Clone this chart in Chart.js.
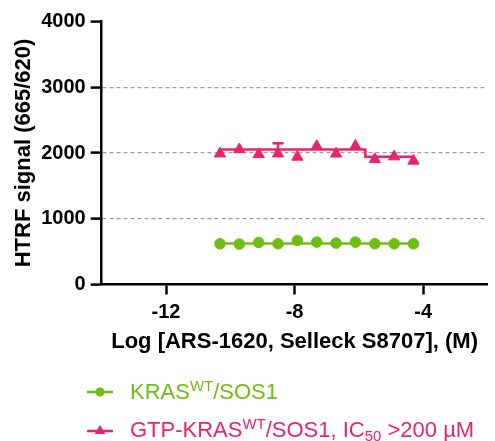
<!DOCTYPE html>
<html>
<head>
<meta charset="utf-8">
<script src="https://cdn.jsdelivr.net/npm/chart.js@4"></script>
<style>
  html, body { margin: 0; padding: 0; background: #fff; overflow: hidden; }
  #wrap { position: relative; width: 495px; height: 441px; }
  canvas { position: absolute; left: 0; top: 0; }
  .leg { position: absolute; left: 85px; height: 28px; display: flex; align-items: center;
         font-family: "Liberation Sans", Arial, sans-serif; font-size: 22px; white-space: nowrap; }
  .leg svg { margin-right: 15px; }
  .leg sup { font-size: 0.68em; vertical-align: 0.55em; line-height: 0; }
  .leg sub { font-size: 0.68em; vertical-align: -0.3em; line-height: 0; }
</style>
</head>
<body>
<div id="wrap">
  <canvas id="c" width="495" height="441"></canvas>
  <div class="leg" id="leg1" style="top:378px;color:rgb(111,190,20)">
    <svg width="30" height="14"><line x1="2" y1="7" x2="28" y2="7" stroke="rgb(111,190,20)" stroke-width="2.5"/><circle cx="15" cy="7" r="4.5" fill="rgb(111,190,20)"/></svg>
    <span>KRAS<sup>WT</sup>/SOS1</span>
  </div>
  <div class="leg" id="leg2" style="top:416px;color:rgb(233,35,110)">
    <svg width="30" height="14"><line x1="2" y1="8" x2="28" y2="8" stroke="rgb(233,35,110)" stroke-width="2.5"/><polygon points="15,2 20.5,11 9.5,11" fill="rgb(233,35,110)"/></svg>
    <span>GTP-KRAS<sup>WT</sup>/SOS1, IC<sub>50</sub> &gt;200 µM</span>
  </div>
</div>
<script>
// ---- data ----
const logConc = [-10.321, -9.719, -9.117, -8.515, -7.913, -7.311, -6.709, -6.107, -5.505, -4.903, -4.301];
const krasWT = [620, 615, 640, 620, 670, 645, 630, 645, 620, 620, 620];
const gtpKrasWT = [1990, 2055, 1980, 1990, 1940, 2103, 1988, 2108, 1903, 1945, 1880];
const gtpKrasErr = [0, 0, 0, 160, 0, 0, 0, 0, 0, 0, 0];
const krasFitX = [-10.321, -4.301];
const krasFitY = [625, 625];
const gtpFitX = [-10.321, -5.80, -5.80, -4.301];
const gtpFitY = [2055, 2055, 1944, 1944];
const xTickValues = [-12, -8, -4];
const yTickValues = [0, 1000, 2000, 3000, 4000];
const xTitle = 'Log [ARS-1620, Selleck S8707], (M)';
const yTitle = 'HTRF signal (665/620)';

const GREEN = 'rgb(111,190,20)';
const PINK = 'rgb(233,35,110)';
const FONT = '"Liberation Sans", Arial, sans-serif';

const pts = (xs, ys) => xs.map((x, i) => ({x: x, y: ys[i]}));

const errorBars = {
  id: 'errorBars',
  afterDatasetsDraw(chart) {
    const meta = chart.getDatasetMeta(1);
    const ys = chart.scales.y;
    const ctx = chart.ctx;
    ctx.save();
    ctx.strokeStyle = PINK;
    ctx.lineWidth = 2.5;
    meta.data.forEach((el, i) => {
      const e = gtpKrasErr[i];
      if (!e) return;
      const top = ys.getPixelForValue(gtpKrasWT[i] + e);
      ctx.beginPath();
      ctx.moveTo(el.x, el.y);
      ctx.lineTo(el.x, top);
      ctx.moveTo(el.x - 5.5, top);
      ctx.lineTo(el.x + 5.5, top);
      ctx.stroke();
    });
    ctx.restore();
  }
};

new Chart(document.getElementById('c'), {
  type: 'scatter',
  data: {
    datasets: [
      { data: pts(gtpFitX, gtpFitY), showLine: true, borderColor: PINK, borderWidth: 2.5, pointRadius: 0, fill: false },
      { data: pts(logConc, gtpKrasWT), showLine: false, pointStyle: 'triangle', pointRadius: 6.5,
        backgroundColor: PINK, borderColor: PINK, borderWidth: 1 },
      { data: pts(krasFitX, krasFitY), showLine: true, borderColor: GREEN, borderWidth: 2.5, pointRadius: 0, fill: false },
      { data: pts(logConc, krasWT), showLine: false, pointStyle: 'circle', pointRadius: 5.3,
        backgroundColor: GREEN, borderColor: GREEN, borderWidth: 1 }
    ]
  },
  options: {
    responsive: false,
    animation: false,
    events: [],
    layout: { padding: { top: 21.5, bottom: 81.5, left: 0, right: 0 } },
    plugins: { legend: { display: false }, tooltip: { enabled: false } },
    scales: {
      x: {
        type: 'linear', min: -14, max: -2,
        afterBuildTicks: (s) => { s.ticks = xTickValues.map(v => ({value: v})); },
        afterFit: (s) => { s.height = 75; },
        ticks: { color: '#000', padding: 6, font: { family: FONT, size: 20, weight: 'bold' },
                 callback: (v) => String(v) },
        grid: { drawOnChartArea: false, drawTicks: true, tickLength: 10, tickWidth: 2.5, tickColor: '#000' },
        border: { display: true, color: '#000', width: 2.5 },
        title: { display: true, text: xTitle, color: '#000', padding: { top: 0, bottom: 4.3 },
                 font: { family: FONT, size: 22, weight: 'bold' } }
      },
      y: {
        min: 0, max: 4000,
        afterBuildTicks: (s) => { s.ticks = yTickValues.map(v => ({value: v})); },
        afterFit: (s) => { s.width = 101.7; },
        ticks: { color: '#000', padding: 5, font: { family: FONT, size: 20, weight: 'bold' },
                 callback: (v) => String(v) },
        grid: {
          drawOnChartArea: true, drawTicks: true, tickLength: 11, tickWidth: 2.5, tickColor: '#000',
          lineWidth: 1.2,
          color: (c) => (c.tick && (c.tick.value === 0 || c.tick.value === 4000)) ? 'rgba(0,0,0,0)' : '#a0a0a0',
          borderDash: [4, 3]
        },
        border: { display: true, color: '#000', width: 2.5, dash: [4, 3] },
        title: { display: true, text: yTitle, color: '#000', padding: { top: 11, bottom: 0 },
                 font: { family: FONT, size: 22, weight: 'bold' } }
      }
    }
  },
  plugins: [errorBars]
});
</script>
</body>
</html>
